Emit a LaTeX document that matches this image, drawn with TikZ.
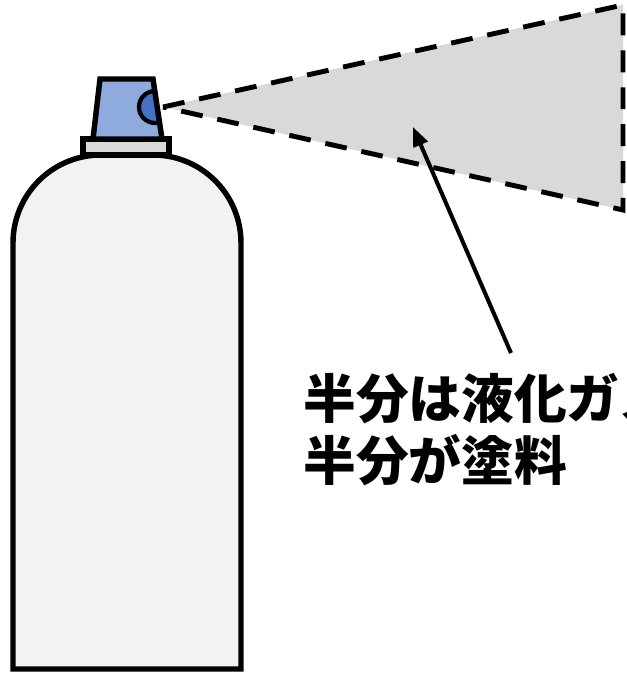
\documentclass[tikz,border=0pt]{standalone}
\usepackage{fontspec}
\newfontfamily\jpfont{Noto Sans CJK JP}
\usepackage{xcolor}
\usepackage{tikz}
\usetikzlibrary{arrows.meta}
\definecolor{bodygray}{RGB}{242,242,242}
\definecolor{spraygray}{RGB}{217,217,217}
\definecolor{capblue}{RGB}{143,170,220}
\definecolor{nozzleblue}{RGB}{68,114,196}

\begin{document}
\begin{tikzpicture}[x=0.02cm, y=0.02cm,
    outline/.style={draw=black, line width=3.1pt},
    spray/.style={draw=black, line width=2.8pt, dash pattern=on 12.5pt off 8.5pt, fill=spraygray},
    notetext/.style={font=\jpfont\bfseries\fontsize{30pt}{34pt}\selectfont, inner sep=0pt, anchor=base west}]

\useasboundingbox (0,0) rectangle (626,673);
\clip (0,0) rectangle (626,673);

% spray cone
\coordinate (apex) at (163,566);
\coordinate (sprayTop) at (623,668);
\coordinate (sprayBot) at (623,463);
\draw[spray] (apex) -- (sprayTop) -- (sprayBot) -- cycle;

% can body
\draw[outline, fill=bodygray] (13,4) -- (13,300) [rounded corners=1.76cm] -- (13,518)
    -- (241,518) -- (241,300) [sharp corners] -- (241,4) -- cycle;

% collar
\draw[outline, fill=spraygray] (83,518) rectangle (169,534);

% cap with nozzle
\coordinate (capBL) at (93,534);
\coordinate (capTL) at (100,594);
\coordinate (capTR) at (153,594);
\coordinate (capBR) at (162,534);
\fill[capblue] (capBL) -- (capTL) -- (capTR) -- (capBR) -- cycle;
\begin{scope}
  \clip (capBL) -- (capTL) -- (capTR) -- (capBR) -- cycle;
  \draw[line width=2.4pt, fill=nozzleblue] (155,566) circle[radius=16];
\end{scope}
\draw[outline] (capBL) -- (capTL) -- (capTR) -- (capBR) -- cycle;

% pointer
\coordinate (tail) at (511,320);
\coordinate (tip) at (413,546);
\draw[line width=2.3pt, -{Triangle[length=11pt,width=8.5pt]}] (tail) -- (tip);

% note
\node[notetext] (line1) at (303,254) {半分は液化ガス};
\node[notetext] (line2) at (303,192) {半分が塗料};
\end{tikzpicture}
\end{document}
